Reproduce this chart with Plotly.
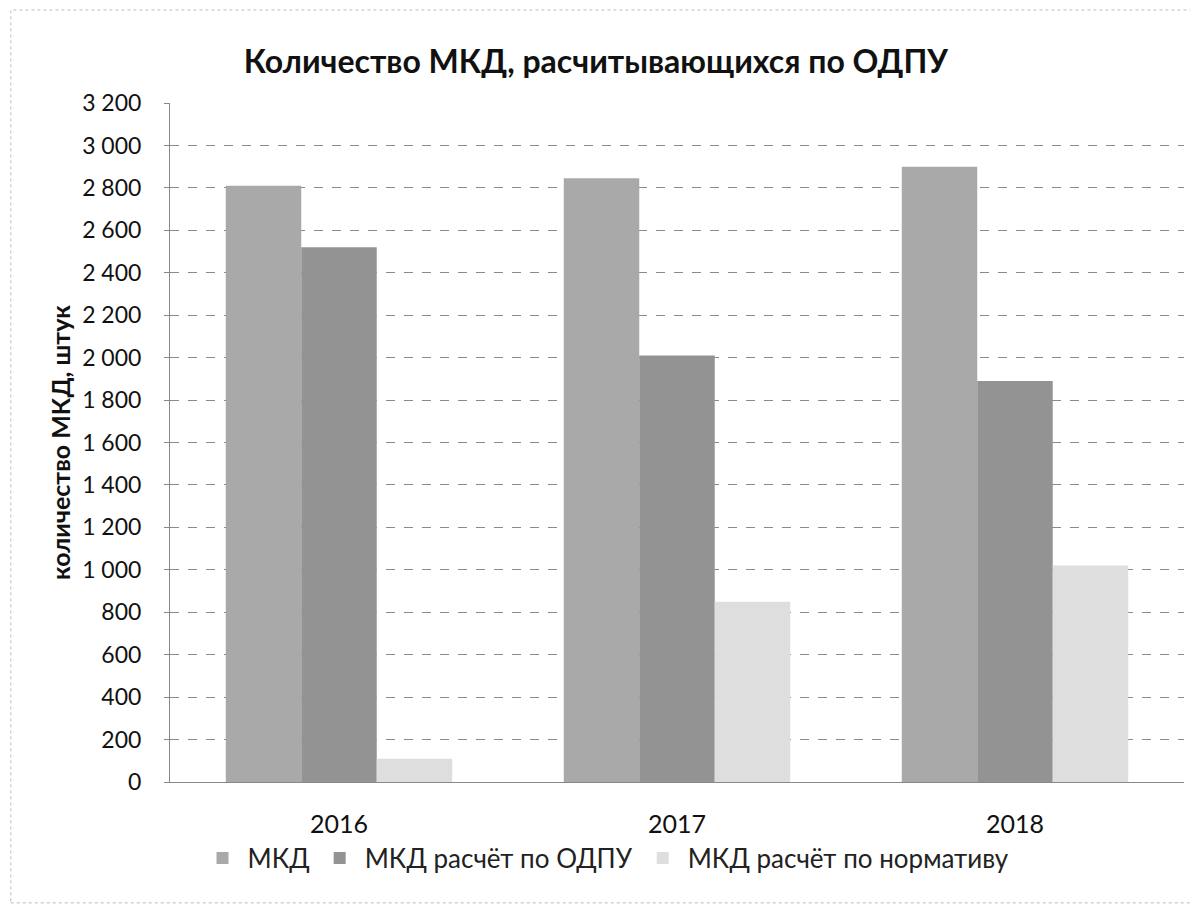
import plotly.graph_objects as go

years = ["2016", "2017", "2018"]
mkd = [2810, 2845, 2900]
mkd_odpu = [2520, 2010, 1890]
mkd_norm = [110, 850, 1020]

series_names = ["МКД", "МКД расчёт по ОДПУ", "МКД расчёт по нормативу"]
colors = ["#a9a9a9", "#939393", "#dedede"]

FONT = "Lato, 'Open Sans', sans-serif"

fig = go.Figure()
for name, vals, col in zip(series_names, [mkd, mkd_odpu, mkd_norm], colors):
    fig.add_trace(go.Bar(x=years, y=vals, name=name,
                         marker=dict(color=col, line=dict(width=0))))

fig.update_layout(
    width=1190, height=897,
    paper_bgcolor="white", plot_bgcolor="white",
    separators=", ",
    barmode="group", bargap=0.33, bargroupgap=0,
    margin=dict(l=162, r=14, t=95, b=123),
    title=dict(text="<b>Количество МКД, расчитывающихся по ОДПУ</b>",
               xref="container", yref="container",
               x=0.494, xanchor="center", y=0.94, yanchor="middle",
               font=dict(family=FONT, size=32, color="#111")),
    font=dict(family=FONT, size=23, color="#111"),
    legend=dict(orientation="h", x=0.43, xanchor="center", y=-0.112, yanchor="middle",
                font=dict(size=26, color="#222"), itemwidth=40, traceorder="normal"),
    xaxis=dict(showline=True, linecolor="#888", linewidth=1, ticks="", showgrid=False,
               ticklabelstandoff=20, tickfont=dict(size=25, color="#111")),
    yaxis=dict(range=[0, 3200], dtick=200, tickformat=",d", showline=True,
               linecolor="#888", linewidth=1, ticks="outside", ticklen=5, tickcolor="#888",
               ticklabelstandoff=18,
               showgrid=True, gridcolor="#8a8a8a", gridwidth=1, griddash="dash",
               zeroline=False, tickfont=dict(size=23, color="#111"),
               title=dict(text="<b>количество МКД, штук</b>", font=dict(size=25, color="#111"),
                          standoff=4)),
)

fig.add_shape(type="rect", xref="paper", yref="paper", x0=-0.157, y0=-0.178, x1=1.012, y1=1.137,
              line=dict(color="#bbbbbb", width=1, dash="dot"))

fig.write_html("out.html")
